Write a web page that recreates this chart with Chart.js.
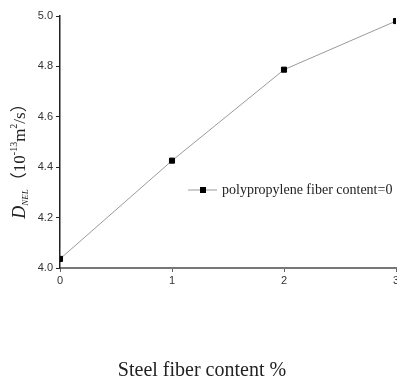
<!DOCTYPE html>
<html>
<head>
<meta charset="utf-8">
<script src="https://cdn.jsdelivr.net/npm/chart.js@4.4.0/dist/chart.umd.min.js"></script>
<style>
body { margin: 0; background: #fff; }
#wrap { width: 397px; height: 381px; }
</style>
</head>
<body>
<div id="wrap"><canvas id="dnelChart"></canvas></div>
<script>
// dati
const steelFiber = [0, 1, 2, 3];
const dnelValues = [4.036, 4.426, 4.787, 4.98];
const xTicks = [0, 1, 2, 3];
const yTicks = [4.0, 4.2, 4.4, 4.6, 4.8, 5.0];
const seriesLabel = 'polypropylene fiber content=0';
const xTitle = 'Steel fiber content %';

const SERIF = '"Liberation Serif", "Noto Sans CJK SC", serif';
const SANS = '"Liberation Sans", Arial, sans-serif';

// titolo asse y con pedici/apici
const yTitleParts = [
    { t: 'D', font: 'italic 18px ' + SERIF, dy: 0 },
    { t: 'NEL', font: 'italic 9px ' + SERIF, dy: 3 },
    { t: '（10', font: '17px ' + SERIF, dy: 0 },
    { t: '-13', font: '10px ' + SERIF, dy: -8 },
    { t: 'm', font: '17px ' + SERIF, dy: 0 },
    { t: '2', font: '10px ' + SERIF, dy: -8 },
    { t: '/s）', font: '17px ' + SERIF, dy: 0 }
];

const titlesPlugin = {
    id: 'titles',
    afterDraw(chart) {
        const ctx = chart.ctx;

        // asse x
        ctx.save();
        ctx.fillStyle = '#222';
        ctx.font = '20px ' + SERIF;
        ctx.textAlign = 'center';
        ctx.textBaseline = 'alphabetic';
        ctx.fillText(xTitle, 202, 376);
        ctx.restore();

        // asse y
        ctx.save();
        ctx.fillStyle = '#222';
        ctx.textBaseline = 'alphabetic';
        ctx.textAlign = 'left';
        let total = 0;
        yTitleParts.forEach(p => {
            ctx.font = p.font;
            p.w = ctx.measureText(p.t).width;
            total += p.w;
        });
        ctx.translate(25, 157);
        ctx.rotate(-Math.PI / 2);
        let x = -total / 2;
        yTitleParts.forEach(p => {
            ctx.font = p.font;
            ctx.fillText(p.t, x, p.dy);
            x += p.w;
        });
        ctx.restore();

        // legenda
        const ds = chart.data.datasets[0];
        const ly = 190;
        ctx.save();
        ctx.strokeStyle = ds.borderColor;
        ctx.lineWidth = 1;
        ctx.beginPath();
        ctx.moveTo(188, ly);
        ctx.lineTo(217, ly);
        ctx.stroke();
        ctx.fillStyle = '#000';
        ctx.fillRect(200, ly - 3, 6, 6);
        ctx.fillStyle = '#222';
        ctx.font = '14px ' + SERIF;
        ctx.textBaseline = 'middle';
        ctx.fillText(ds.label, 222, ly);
        ctx.restore();
    }
};

document.addEventListener('DOMContentLoaded', () => {
    const data = {
        labels: steelFiber,
        datasets: [{
            label: seriesLabel,
            data: steelFiber.map((x, i) => ({ x: x, y: dnelValues[i] })),
            borderColor: '#9a9a9a',
            borderWidth: 1,
            pointStyle: 'rect',
            pointRadius: 3.6,
            pointBorderWidth: 1,
            pointBackgroundColor: '#000',
            pointBorderColor: '#000',
            tension: 0
        }]
    };

    new Chart(document.getElementById('dnelChart'), {
        type: 'line',
        data: data,
        plugins: [titlesPlugin],
        options: {
            responsive: true,
            maintainAspectRatio: false,
            animation: false,
            layout: { autoPadding: false, padding: { left: 0, top: 16, right: 1, bottom: 0 } },
            plugins: {
                legend: { display: false },
                tooltip: { enabled: false }
            },
            scales: {
                x: {
                    type: 'linear',
                    min: 0,
                    max: 3,
                    afterBuildTicks: s => { s.ticks = xTicks.map(v => ({ value: v })); },
                    afterFit: s => { s.height = 113; s.paddingLeft = 0; s.paddingRight = 0; },
                    ticks: {
                        font: { family: SANS, size: 11 },
                        color: '#333',
                        padding: 2
                    },
                    grid: {
                        display: true,
                        drawOnChartArea: false,
                        drawTicks: true,
                        tickLength: 4,
                        color: '#666'
                    },
                    border: { display: true, color: '#777', width: 2 }
                },
                y: {
                    min: 4.0,
                    max: 5.0,
                    afterBuildTicks: s => { s.ticks = yTicks.map(v => ({ value: v })); },
                    afterFit: s => { s.width = 60; s.paddingTop = 0; s.paddingBottom = 0; },
                    ticks: {
                        font: { family: SANS, size: 11 },
                        color: '#333',
                        padding: 3,
                        callback: v => v.toFixed(1)
                    },
                    grid: {
                        display: true,
                        drawOnChartArea: false,
                        drawTicks: true,
                        tickLength: 4,
                        color: '#222'
                    },
                    border: { display: true, color: '#222', width: 1.5 }
                }
            }
        }
    });
});
</script>
</body>
</html>
